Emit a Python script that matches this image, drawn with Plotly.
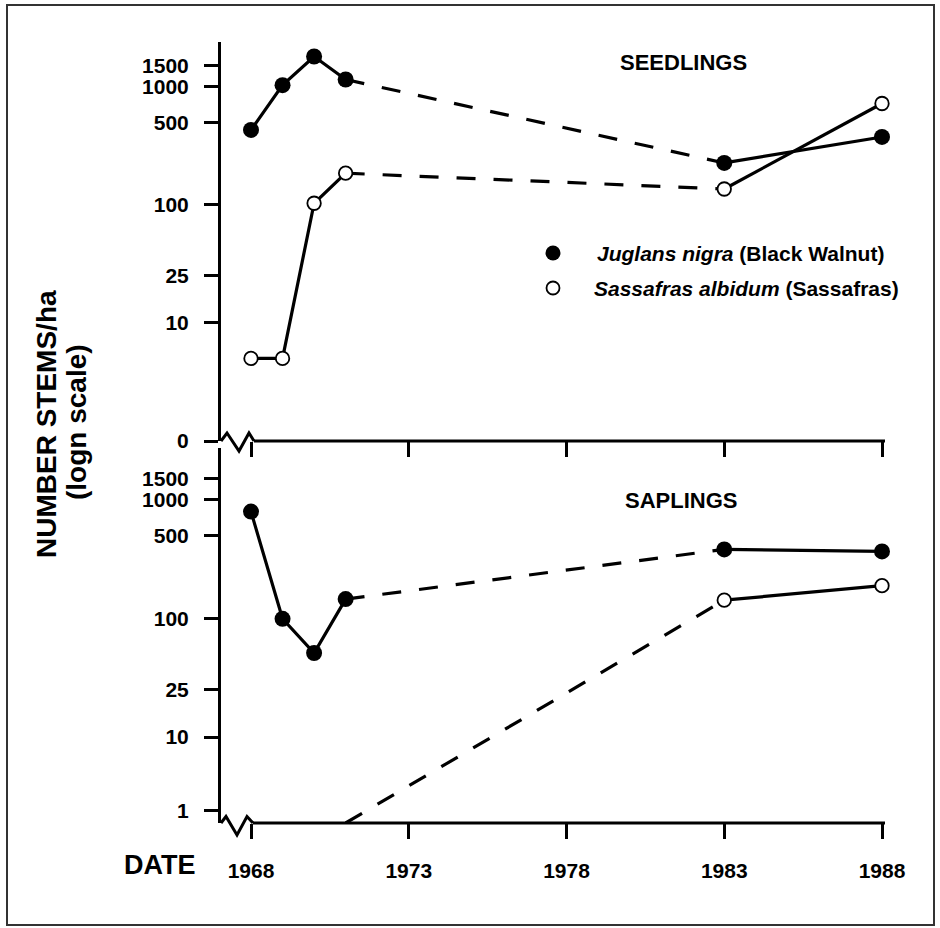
import plotly.graph_objects as go

# ---------------- data ----------------
YEARS = [1968, 1969, 1970, 1971, 1983, 1988]
SEEDLINGS_WALNUT = [430, 1030, 1800, 1150, 226, 375]
SEEDLINGS_SASSAFRAS = [5, 5, 103, 185, 136, 720]
SAPLINGS_WALNUT = [790, 99, 51, 145, 380, 365]
SAPLINGS_SASSAFRAS = [None, None, None, 0, 142, 188]   # 0 = none present (drawn on the broken axis)

YEAR_TICKS = [1968, 1973, 1978, 1983, 1988]
SEEDLING_TICKS = [0, 10, 25, 100, 500, 1000, 1500]
SAPLING_TICKS = [1, 10, 25, 100, 500, 1000, 1500]

SPECIES = ["<i>Juglans nigra</i> (Black Walnut)", "<i>Sassafras albidum</i> (Sassafras)"]
PANELS = ["SEEDLINGS", "SAPLINGS"]
Y_TITLE = ["NUMBER STEMS/ha", "(logn scale)"]
X_TITLE = "DATE"

# ---------------- layout constants ----------------
FIG_W, FIG_H = 940, 928
M_L, M_R, M_T, M_B = 221, 55, 42, 105
PLOT_W = FIG_W - M_L - M_R
PLOT_H = FIG_H - M_T - M_B
FONT = "Liberation Sans, Arial, sans-serif"

X_RANGE = [1967.049, 1988.095]
TOP_LOG_RANGE = [0.0, 3.378]
BOT_LOG_RANGE = [0.277, 3.433]
TOP_FLOOR = 10 ** TOP_LOG_RANGE[0]
BOT_FLOOR = 10 ** BOT_LOG_RANGE[0]
BOT_ONE_POS = 2.39          # where the "1" label sits above the axis break

TOP_DOMAIN = [(FIG_H - M_B - 441) / PLOT_H, 1.0]
BOT_DOMAIN = [0.0, (FIG_H - M_B - 448) / PLOT_H]


def px_x(px):
    return (px - M_L) / PLOT_W


def px_y(py):
    return (FIG_H - M_B - py) / PLOT_H


DASH = "19px,18px"
LW = 3.2

fig = go.Figure()


def add_series(vals, floor, xa, ya, filled):
    yv = [None if v is None else (floor if v == 0 else v) for v in vals]
    segs = [(0, 4, "solid"), (3, 5, DASH), (4, 6, "solid")]
    for a, b, d in segs:
        xs, ys = YEARS[a:b], yv[a:b]
        if sum(1 for y in ys if y is not None) < 2:
            continue
        fig.add_trace(go.Scatter(
            x=xs, y=ys, mode="lines", xaxis=xa, yaxis=ya,
            line=dict(color="black", width=LW, dash=d),
            connectgaps=False, cliponaxis=False, hoverinfo="skip", showlegend=False))
    mx = [YEARS[i] for i, v in enumerate(vals) if v]
    my = [v for v in vals if v]
    if filled:
        marker = dict(color="black", size=16, line=dict(width=0))
    else:
        marker = dict(color="white", size=13.5, line=dict(color="black", width=1.8))
    fig.add_trace(go.Scatter(
        x=mx, y=my, mode="markers", xaxis=xa, yaxis=ya, marker=marker,
        cliponaxis=False, showlegend=False))


add_series(SEEDLINGS_WALNUT, TOP_FLOOR, "x", "y", True)
add_series(SEEDLINGS_SASSAFRAS, TOP_FLOOR, "x", "y", False)
add_series(SAPLINGS_WALNUT, BOT_FLOOR, "x2", "y2", True)
add_series(SAPLINGS_SASSAFRAS, BOT_FLOOR, "x2", "y2", False)

tick_font = dict(family=FONT, size=21, color="black", weight="bold")

xcommon = dict(range=X_RANGE, tickvals=YEAR_TICKS, ticktext=[str(t) for t in YEAR_TICKS],
               ticks="outside", ticklen=15, tickwidth=2.6, tickcolor="black",
               showline=False, showgrid=False, zeroline=False, tickfont=tick_font,
               ticklabelstandoff=14)
ycommon = dict(type="log", ticks="outside", ticklen=14, tickwidth=2.6, tickcolor="black",
               showline=True, linewidth=3, linecolor="black", showgrid=False,
               zeroline=False, tickfont=tick_font, ticklabelstandoff=11)

top_tickvals = [TOP_FLOOR if t == 0 else t for t in SEEDLING_TICKS]
bot_tickvals = [BOT_ONE_POS if t == 1 else t for t in SAPLING_TICKS]

fig.update_layout(
    width=FIG_W, height=FIG_H,
    margin=dict(l=M_L, r=M_R, t=M_T, b=M_B, pad=0),
    paper_bgcolor="white", plot_bgcolor="white",
    showlegend=False,
    font=dict(family=FONT, color="black"),
    xaxis=dict(xcommon, anchor="y", showticklabels=False),
    xaxis2=dict(xcommon, anchor="y2", showticklabels=True),
    yaxis=dict(ycommon, domain=TOP_DOMAIN, anchor="x", range=TOP_LOG_RANGE,
               tickvals=top_tickvals, ticktext=[str(t) for t in SEEDLING_TICKS]),
    yaxis2=dict(ycommon, domain=BOT_DOMAIN, anchor="x2", range=BOT_LOG_RANGE,
                tickvals=bot_tickvals, ticktext=[str(t) for t in SAPLING_TICKS]),
)

shapes = []
# horizontal axis lines (start after the break)
for y_px, x_start in [(441, 254), (823, 253)]:
    shapes.append(dict(type="line", xref="paper", yref="paper",
                       x0=px_x(x_start), x1=1.0, y0=px_y(y_px), y1=px_y(y_px),
                       line=dict(color="black", width=3)))
# axis-break zigzags
for pts in ([(221, 441), (227, 433), (239, 451), (249, 433), (254, 441)],
            [(221, 823), (226, 816.5), (237, 835), (247, 816.5), (253, 823)]):
    path = "M " + " L ".join(f"{px_x(a):.5f},{px_y(b):.5f}" for a, b in pts)
    shapes.append(dict(type="path", xref="paper", yref="paper", path=path,
                       line=dict(color="black", width=3)))
# legend symbols
shapes.append(dict(type="circle", xref="paper", yref="paper",
                   x0=px_x(553 - 7.5), x1=px_x(553 + 7.5), y0=px_y(253 + 7.5), y1=px_y(253 - 7.5),
                   fillcolor="black", line=dict(color="black", width=0)))
shapes.append(dict(type="circle", xref="paper", yref="paper",
                   x0=px_x(553 - 6.5), x1=px_x(553 + 6.5), y0=px_y(288 + 6.5), y1=px_y(288 - 6.5),
                   fillcolor="white", line=dict(color="black", width=1.8)))
# outer frame
shapes.append(dict(type="rect", xref="paper", yref="paper",
                   x0=px_x(7), x1=px_x(934), y0=px_y(925), y1=px_y(5),
                   line=dict(color="#333333", width=2), fillcolor="rgba(0,0,0,0)"))
fig.update_layout(shapes=shapes)

ann = []
bold = lambda s: dict(family=FONT, size=s, color="black", weight="bold")
ann.append(dict(text=PANELS[0], x=px_x(683), y=px_y(62), xref="paper", yref="paper",
                showarrow=False, font=bold(22), xanchor="center", yanchor="middle"))
ann.append(dict(text=PANELS[1], x=px_x(681), y=px_y(500), xref="paper", yref="paper",
                showarrow=False, font=bold(22), xanchor="center", yanchor="middle"))
ann.append(dict(text=SPECIES[0], x=px_x(595), y=px_y(253), xref="paper", yref="paper",
                showarrow=False, font=bold(21), xanchor="left", yanchor="middle"))
ann.append(dict(text=SPECIES[1], x=px_x(592), y=px_y(288), xref="paper", yref="paper",
                showarrow=False, font=bold(21), xanchor="left", yanchor="middle"))
ann.append(dict(text=X_TITLE, x=px_x(160), y=px_y(865), xref="paper", yref="paper",
                showarrow=False, font=bold(27), xanchor="center", yanchor="middle"))
ann.append(dict(text=Y_TITLE[0], x=px_x(46), y=px_y(424), xref="paper", yref="paper",
                showarrow=False, font=bold(28), textangle=-90, xanchor="center", yanchor="middle"))
ann.append(dict(text=Y_TITLE[1], x=px_x(76), y=px_y(422), xref="paper", yref="paper",
                showarrow=False, font=bold(28), textangle=-90, xanchor="center", yanchor="middle"))
fig.update_layout(annotations=ann)

fig.write_html("out.html")
